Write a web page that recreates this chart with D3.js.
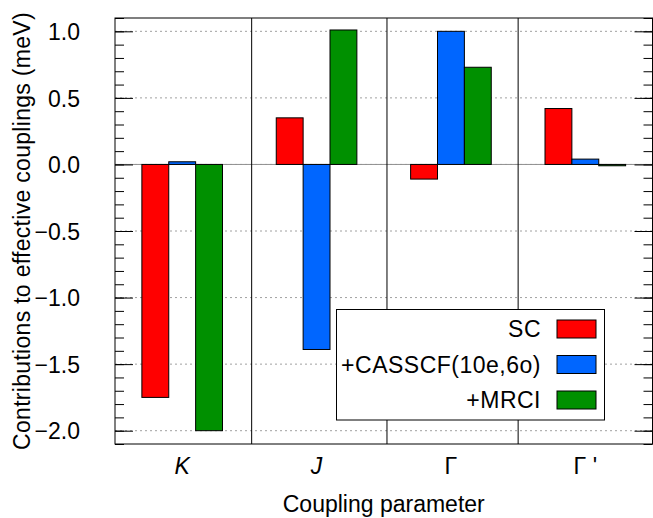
<!DOCTYPE html>
<html>
<head>
<meta charset="utf-8">
<script src="https://cdn.jsdelivr.net/npm/d3@7"></script>
<style>
  body { margin: 0; background: #fff; }
  text { font-family: "Liberation Sans", Arial, sans-serif; font-size: 23px; fill: #000; }
</style>
</head>
<body>
<script>
// Coupling parameters and the three contributions (meV)
const params = ["K", "J", "Γ", "Γ '"];
const italicParams = [true, true, false, false];
const scVals = [-1.75, 0.35, -0.11, 0.42];
const casscfVals = [0.02, -1.39, 1.00, 0.04];
const mrciVals = [-2.00, 1.01, 0.73, -0.01];
const seriesNames = ["SC", "+CASSCF(10e,6o)", "+MRCI"];
const seriesColors = ["#ff0000", "#0066ff", "#009000"];
const yTicks = [-2.0, -1.5, -1.0, -0.5, 0.0, 0.5, 1.0];
const separators = [0.517, 1.524, 2.5];

const width = 653, height = 518;
const plotLeft = 115, plotRight = 652.5, plotTop = 18, plotBottom = 444;

const svg = d3.select("body").append("svg")
    .attr("width", width)
    .attr("height", height);

const x = d3.scaleLinear().domain([-0.5, 3.5]).range([plotLeft, plotRight]);
const y = d3.scaleLinear().domain([-2.1, 1.1]).range([plotBottom, plotTop]);

// dotted grid at major ticks
svg.append("g").selectAll("line")
    .data(yTicks)
    .enter().append("line")
    .attr("x1", plotLeft).attr("x2", plotRight)
    .attr("y1", d => y(d)).attr("y2", d => y(d))
    .attr("stroke", "#a0a0a0")
    .attr("stroke-dasharray", "2,3");

// zero axis
svg.append("line")
    .attr("x1", plotLeft).attr("x2", plotRight)
    .attr("y1", y(0)).attr("y2", y(0))
    .attr("stroke", "#909090");

// group separators
svg.append("g").selectAll("line")
    .data(separators)
    .enter().append("line")
    .attr("x1", d => x(d)).attr("x2", d => x(d))
    .attr("y1", plotTop).attr("y2", plotBottom)
    .attr("stroke", "#000");

// bars
const series = [scVals, casscfVals, mrciVals];
const barW = 0.2;
series.forEach((vals, s) => {
    svg.append("g").selectAll("rect")
        .data(vals)
        .enter().append("rect")
        .attr("x", (d, i) => x(i - 0.3 + s * barW))
        .attr("width", x(barW) - x(0))
        .attr("y", d => y(Math.max(0, d)))
        .attr("height", d => Math.abs(y(d) - y(0)))
        .attr("fill", seriesColors[s])
        .attr("stroke", "#000")
        .attr("stroke-width", 1);
});

// y axis ticks (left + mirrored right), major and minor
const minor = d3.range(-21, 12).map(v => v / 10);
svg.append("g").attr("transform", `translate(${plotLeft},0)`)
    .call(d3.axisLeft(y).tickValues(minor).tickSize(-9).tickFormat(""))
    .call(g => g.select(".domain").remove());
svg.append("g").attr("transform", `translate(${plotRight},0)`)
    .call(d3.axisRight(y).tickValues(minor).tickSize(-9).tickFormat(""))
    .call(g => g.select(".domain").remove());
const majL = svg.append("g").attr("transform", `translate(${plotLeft},0)`)
    .call(d3.axisLeft(y).tickValues(yTicks).tickSize(-18).tickPadding(35).tickFormat(d3.format(".1f")));
majL.select(".domain").remove();
majL.selectAll("text")
    .attr("fill", "#000")
    .style("font-size", "23px")
    .style("font-family", "Liberation Sans, Arial, sans-serif")
    .attr("dy", "0.36em");
svg.append("g").attr("transform", `translate(${plotRight},0)`)
    .call(d3.axisRight(y).tickValues(yTicks).tickSize(-18).tickFormat(""))
    .call(g => g.select(".domain").remove());
svg.selectAll(".tick line").attr("stroke", "#000");

// plot border
svg.append("rect")
    .attr("x", plotLeft).attr("y", plotTop)
    .attr("width", plotRight - plotLeft).attr("height", plotBottom - plotTop)
    .attr("fill", "none").attr("stroke", "#000");

// x labels
svg.append("g").selectAll("text")
    .data(params)
    .enter().append("text")
    .attr("x", (d, i) => x(i))
    .attr("y", 474)
    .attr("text-anchor", "middle")
    .style("font-style", (d, i) => italicParams[i] ? "italic" : "normal")
    .text(d => d);

svg.append("text")
    .attr("x", (plotLeft + plotRight) / 2)
    .attr("y", 512)
    .attr("text-anchor", "middle")
    .text("Coupling parameter");

svg.append("text")
    .attr("transform", `translate(30,${(plotTop + plotBottom) / 2}) rotate(-90)`)
    .attr("text-anchor", "middle")
    .style("letter-spacing", "0.3px")
    .text("Contributions to effective couplings (meV)");

// legend
const legend = svg.append("g");
legend.append("rect")
    .attr("x", 336.5).attr("y", 309.5)
    .attr("width", 268).attr("height", 110.5)
    .attr("fill", "#fff").attr("stroke", "#000");
seriesNames.forEach((name, i) => {
    const cy = 329 + i * 35.5;
    legend.append("text")
        .attr("x", 541).attr("y", cy + 8.2)
        .attr("text-anchor", "end")
        .style("letter-spacing", "0.5px")
        .text(name);
    legend.append("rect")
        .attr("x", 557).attr("y", cy - 9)
        .attr("width", 39).attr("height", 18)
        .attr("fill", seriesColors[i])
        .attr("stroke", "#000");
});
</script>
</body>
</html>
